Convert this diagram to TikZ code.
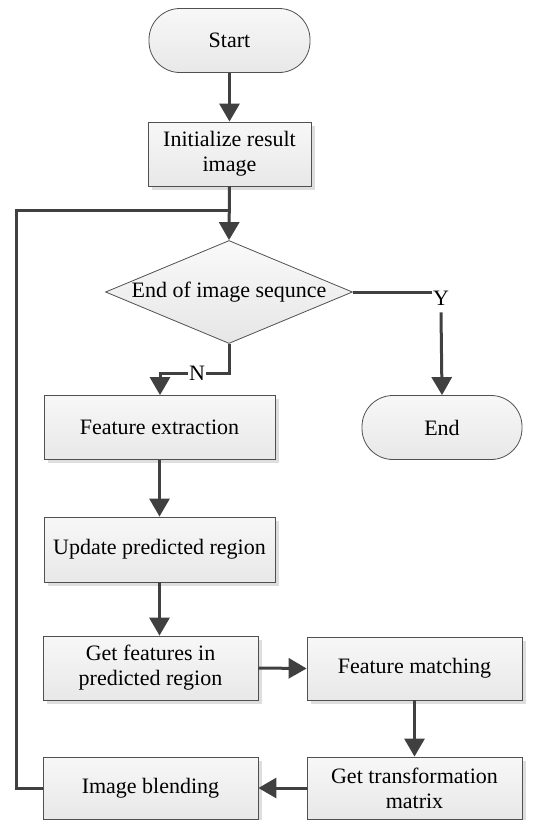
\documentclass[tikz,border=0pt]{standalone}
\usepackage{fontspec}
\setmainfont{Liberation Serif}
\usetikzlibrary{arrows.meta,shapes.geometric,shadows}
\definecolor{ln}{HTML}{404040}
\definecolor{bd}{HTML}{505050}
\begin{document}
\begin{tikzpicture}[x=1pt,y=-1pt,
  font=\fontsize{22}{25}\selectfont,
  proc/.style={draw=bd,line width=0.8pt,top color=black!3,bottom color=black!9,
    align=center,inner sep=2pt,
    drop shadow={shadow xshift=3.5pt,shadow yshift=-3.5pt,fill=black!13,opacity=1}},
  term/.style={draw=bd,line width=0.8pt,top color=black!3,bottom color=black!9,
    rounded corners=31pt,minimum width=161pt,minimum height=64pt},
  conn/.style={draw=ln,line width=3pt,line join=miter},
  arr/.style={conn,-{Triangle[length=18pt,width=20pt]}},
  lbl/.style={inner sep=1pt,fill=white}]
\useasboundingbox (0,0) rectangle (556,820);

\node[term] (start) at (229.5,40.5) {Start};
\node[proc,minimum width=163pt,minimum height=64pt] (init) at (229.5,154) {Initialize result\\image};
\node[draw=bd,line width=0.8pt,diamond,top color=black!2,bottom color=black!10,
  minimum width=247pt,minimum height=103pt,inner sep=0pt] (dia) at (229,292) {};
\node (diat) at (dia.center) {End of image sequnce};
\node[term,minimum width=160pt] (end) at (442,427.5) {End};
\node[proc,minimum width=231pt,minimum height=64pt] (fe) at (159.5,427.5) {Feature extraction};
\node[proc,minimum width=231pt,minimum height=65pt] (upd) at (159.5,549.5) {Update predicted region};
\node[proc,minimum width=215pt,minimum height=64pt] (getf) at (150.5,668) {Get features in\\predicted region};
\node[proc,minimum width=215pt,minimum height=63pt] (fm) at (414.5,668.5) {Feature matching};
\node[proc,minimum width=215pt,minimum height=62pt] (gt) at (414.5,788) {Get transformation\\matrix};
\node[proc,minimum width=215pt,minimum height=62pt] (ib) at (150.5,788) {Image blending};

\coordinate (j) at (229.5,210);
\coordinate (lc) at (16,210);
\coordinate (nb) at (229,373);
\coordinate (nl) at (160,373);
\node[lbl] (nlab) at (197,373) {N};
\node[inner sep=1pt] (ylab) at (441,298) {Y};

\draw[arr] (start.south) -- (init.north);
\draw[arr] (init.south) -- (dia.north);
\draw[conn] (ib.west) -| (lc) -- (j);
\draw[conn] (dia.east) -- (dia.east -| ylab.west);
\draw[arr] (ylab.south) ++(0,6) -- (end.north);
\draw[conn] (dia.south) -- (nb) -- (nlab.east);
\draw[arr] (nlab.west) -- (nl) -- (fe.north -| nl);
\draw[arr] (fe.south) -- (upd.north);
\draw[arr] (upd.south) -- (upd.south |- getf.north);
\draw[arr] (getf.east) -- (fm.west);
\draw[arr] (fm.south) -- (gt.north);
\draw[arr] (gt.west) -- (ib.east);
\end{tikzpicture}
\end{document}
